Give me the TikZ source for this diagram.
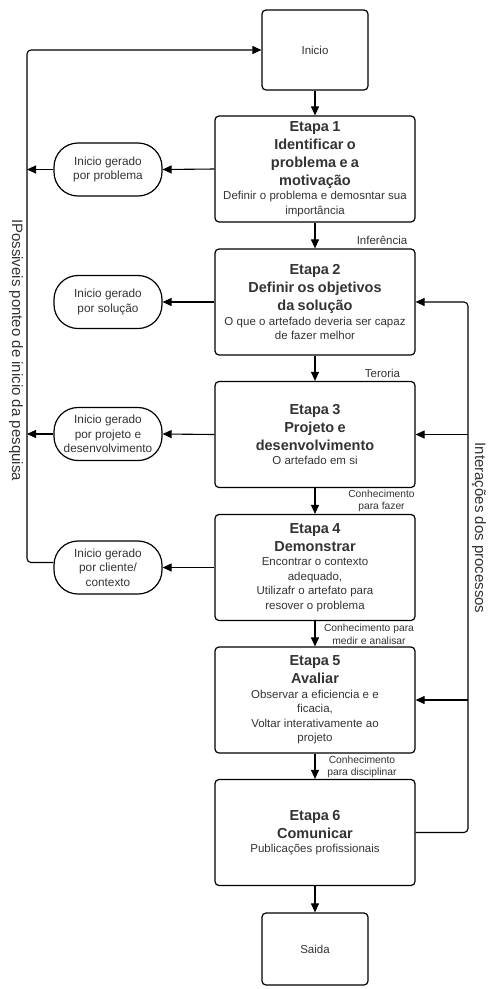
\documentclass[tikz,border=0pt]{standalone}
\usepackage{fontspec}
\setmainfont{Liberation Sans}
\usetikzlibrary{arrows.meta}
\definecolor{txt}{HTML}{333333}
\newcommand\ttl{\bfseries\fontsize{14.5}{18}\selectfont}
\newcommand\bdy{\mdseries\fontsize{11.5}{14.5}\selectfont}
\begin{document}
\begin{tikzpicture}[x=1pt,y=-1pt,
  stage/.style={draw, line width=1.2pt, rounded corners=4pt, minimum width=200pt, minimum height=106pt, text width=196pt, inner sep=2pt, align=center, text=txt},
  term/.style={draw, line width=1.2pt, rounded corners=4pt, minimum width=106pt, text=txt, font=\fontsize{11.5}{14}\selectfont},
  ovalbox/.style={draw, line width=1.2pt, rounded corners=24pt, minimum width=108pt, minimum height=53pt, inner sep=1pt, align=center, text=txt, font=\fontsize{11.8}{14.3}\selectfont},
  conn/.style={line width=1.1pt, -{Triangle[length=9pt,width=8pt]}},
  wire/.style={line width=1.1pt},
  lbl/.style={text=txt, inner sep=0pt, align=center, font=\fontsize{11.5}{14}\selectfont},
  slbl/.style={text=txt, inner sep=0pt, align=center, font=\fontsize{10.3}{12.5}\selectfont},
  side/.style={text=txt, inner sep=0pt, rotate=-90, font=\fontsize{15}{18}\selectfont}]
\useasboundingbox (0,0) rectangle (488,989);

\node[term, minimum height=80pt] (ini) at (315,50) {Inicio};
\node[stage] (e1) at (315,169) {\ttl Etapa 1\\Identificar o\\problema e a\\motivação\par\bdy Definir o problema e demosntar sua\\importância\par};
\node[stage] (e2) at (315,302) {\ttl Etapa 2\\Definir os objetivos\\da solução\par\bdy O que o artefado deveria ser capaz\\de fazer melhor\par};
\node[stage] (e3) at (315,434.5) {\ttl Etapa 3\\Projeto e\\desenvolvimento\par\bdy O artefado em si\par};
\node[stage] (e4) at (315,567.5) {\ttl Etapa 4\\Demonstrar\par\bdy Encontrar o contexto\\adequado,\\Utilizafr o artefato para\\resover o problema\par};
\node[stage] (e5) at (315,700) {\ttl Etapa 5\\Avaliar\par\bdy Observar a eficiencia e e\\ficacia,\\Voltar interativamente ao\\projeto\par};
\node[stage] (e6) at (315,832.5) {\ttl Etapa 6\\Comunicar\par\bdy Publicações profissionais\par};
\node[term, minimum height=72pt] (sai) at (315,949) {Saida};

\node[ovalbox] (o1) at (108,169.5) {Inicio gerado\\por problema};
\node[ovalbox] (o2) at (108,302) {Inicio gerado\\por solução};
\node[ovalbox] (o3) at (108,434) {Inicio gerado\\por projeto e\\desenvolvimento};
\node[ovalbox] (o4) at (108,567.5) {Inicio gerado\\por cliente/\\contexto};

\draw[conn] (ini) -- (e1);
\draw[conn] (e1) -- (e2);
\draw[conn] (e2) -- (e3);
\draw[conn] (e3) -- (e4);
\draw[conn] (e4) -- (e5);
\draw[conn] (e5) -- (e6);
\draw[conn] (e6) -- (sai);

\draw[conn] (e1.west) -- (o1.east);
\draw[conn] (e2.west) -- (o2.east);
\draw[conn] (e3.west) -- (o3.east);
\draw[conn] (e4.west) -- (o4.east);

\coordinate (ltop) at (27,50);
\draw[conn, rounded corners=4pt] ([yshift=5pt]o4.west) -| (ltop) -- (ini.west);
\draw[conn] (o1.west) -- (o1.west -| ltop);
\draw[conn] (o3.west) -- (o3.west -| ltop);

\coordinate (rtop) at (468,302);
\draw[conn, rounded corners=4pt] (e6.east) -| (rtop) -- (e2.east);
\draw[conn] (e3.east -| rtop) -- (e3.east);
\draw[conn] (e5.east -| rtop) -- (e5.east);

\node[lbl] (l1) at (382,240) {Inferência};
\node[lbl] (l2) at (382.5,373) {Teroria};
\node[slbl] (l3) at (381.5,501) {Conhecimento\\para fazer};
\node[slbl] (l4) at (369,634.5) {Conhecimento para\\medir e analisar};
\node[slbl] (l5) at (362,767) {Conhecimento\\para disciplinar};

\node[side] (sl) at (16,350) {IPossiveis ponteo de inicio da pesquisa};
\node[side] (sr) at (479,528) {Interações dos processos};
\end{tikzpicture}
\end{document}
